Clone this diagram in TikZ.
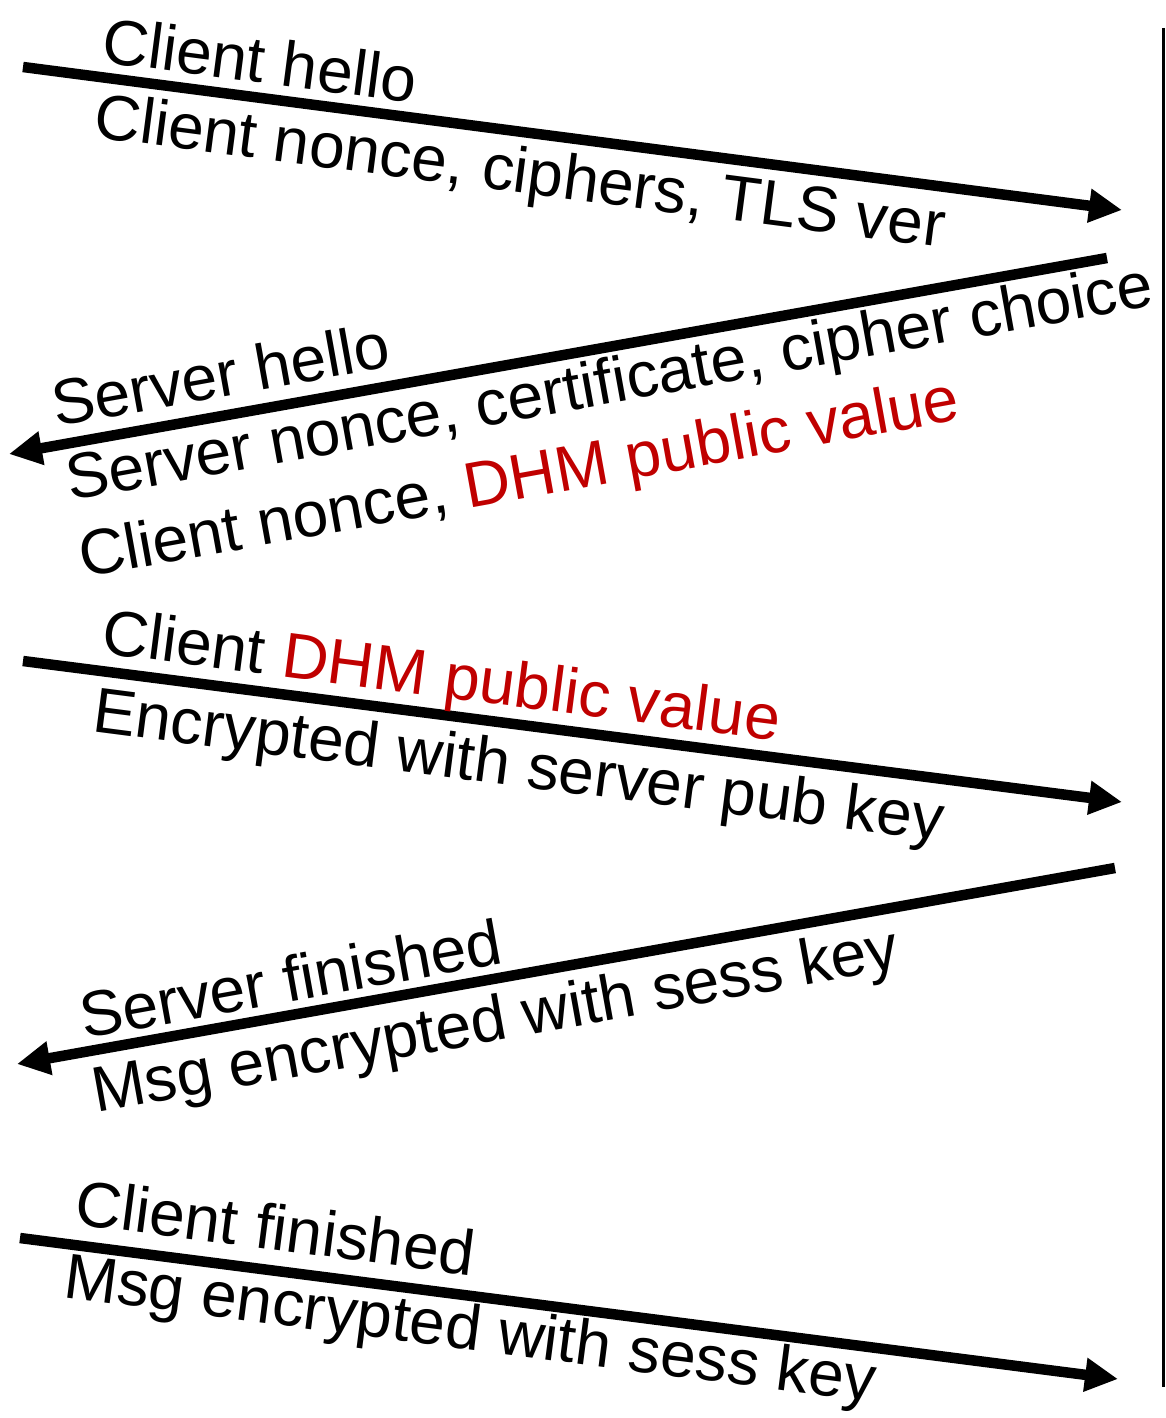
\documentclass[tikz,border=0pt]{standalone}
\usepackage{fontspec}
\setmainfont{Liberation Sans}
\usetikzlibrary{arrows.meta}
\definecolor{dhmred}{RGB}{192,0,0}
\begin{document}
\begin{tikzpicture}[x=1pt,y=-1pt,
  msg/.style={line width=10.5pt, -{Triangle[length=33pt,width=32pt]}},
  lbl/.style={anchor=base west, inner sep=0pt, font=\fontsize{64}{64}\selectfont},
]
\useasboundingbox (0,0) rectangle (1165,1418);
% server timeline
\coordinate (srvtop) at (1163,28);
\coordinate (srvbot) at (1163,1387);
\draw[line width=3pt] (srvtop) -- (srvbot);
% arrow 1
\coordinate (a1s) at (23,67);
\coordinate (a1e) at (1122,210);
\draw[msg] (a1s) -- (a1e);
\node[lbl, rotate=-7.42] (t1a) at (100,62) {Client hello};
\node[lbl, rotate=-7.42] (t1b) at (92,137) {Client nonce, ciphers, TLS ver};
% arrow 2
\coordinate (a2s) at (1107,258);
\coordinate (a2e) at (9,454);
\draw[msg] (a2s) -- (a2e);
\node[lbl, rotate=10.23] (t2a) at (56,427) {Server hello};
\node[lbl, rotate=10.23] (t2b) at (70,501) {Server nonce, certificate, cipher choice};
\node[lbl, rotate=10.23] (t2c) at (83,578) {Client nonce, \textcolor{dhmred}{DHM public value}};
% arrow 3
\coordinate (a3s) at (23,661);
\coordinate (a3e) at (1122,802);
\draw[msg] (a3s) -- (a3e);
\node[lbl, rotate=-7.37] (t3a) at (100,653) {Client \textcolor{dhmred}{DHM public value}};
\node[lbl, rotate=-7.37] (t3b) at (91,731) {Encrypted with server pub key};
% arrow 4
\coordinate (a4s) at (1115,868);
\coordinate (a4e) at (17,1064);
\draw[msg] (a4s) -- (a4e);
\node[lbl, rotate=10.23] (t4a) at (84,1039) {Server finished};
\node[lbl, rotate=10.23] (t4b) at (96,1113) {Msg encrypted with sess key};
% arrow 5
\coordinate (a5s) at (20,1238);
\coordinate (a5e) at (1118,1379);
\draw[msg] (a5s) -- (a5e);
\node[lbl, rotate=-7.37] (t5a) at (73,1224) {Client finished};
\node[lbl, rotate=-7.37] (t5b) at (62,1297) {Msg encrypted with sess key};
\end{tikzpicture}
\end{document}
